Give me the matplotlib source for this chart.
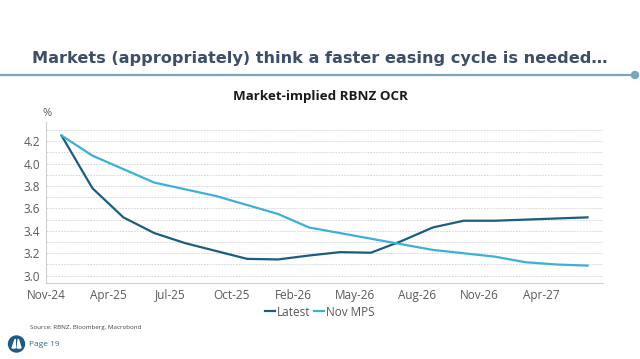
import matplotlib.pyplot as plt
import numpy as np
from matplotlib.patches import Ellipse, Polygon

# meeting-by-meeting path, Nov-24 .. May-27
latest = [4.25, 3.78, 3.52, 3.38, 3.29, 3.22, 3.15, 3.145, 3.18, 3.21,
          3.205, 3.31, 3.43, 3.49, 3.49, 3.50, 3.51, 3.52]
nov_mps = [4.25, 4.07, 3.95, 3.83, 3.77, 3.71, 3.63, 3.55, 3.43, 3.38,
           3.33, 3.28, 3.23, 3.20, 3.17, 3.12, 3.10, 3.09]
tick_labels = ["Nov-24", "Apr-25", "Jul-25", "Oct-25", "Feb-26",
               "May-26", "Aug-26", "Nov-26", "Apr-27"]
y_ticks = [3.0, 3.2, 3.4, 3.6, 3.8, 4.0, 4.2]

dark = "#1b5d7e"
light = "#3bb0d9"
grey = "#595959"

W, H = 640, 359
fig = plt.figure(figsize=(6.4, 3.59), dpi=100)
fig.patch.set_facecolor("white")

def px(x, y):
    return x / W, 1 - y / H

# slide title + rule
fig.text(*px(320, 58), "Markets (appropriately) think a faster easing cycle is needed\u2026",
         ha="center", va="center", fontsize=11.6, fontweight="bold",
         color="#3e4e69", family="DejaVu Sans")
fig.add_artist(plt.Line2D([0, 635 / W], [1 - 75 / H] * 2, color="#7aa6bd", lw=1.6))
fig.add_artist(Ellipse(px(635, 75), 7 / W, 7 / H, transform=fig.transFigure,
                       color="#7aa6bd"))

fig.text(*px(320, 97), "Market-implied RBNZ OCR", ha="center", va="center",
         fontsize=9.6, fontweight="bold", color="#1a1a1a", family="Open Sans")

ax = fig.add_axes([46 / W, 1 - 283 / H, (603 - 46) / W, (283 - 122) / H])
x = np.arange(len(latest))
ax.plot(x, latest, color=dark, lw=1.6, label="Latest")
ax.plot(x, nov_mps, color=light, lw=1.6, label="Nov MPS")

ax.set_xlim(-0.5, len(latest) - 0.5)
ax.set_ylim(2.935, 4.37)
ax.set_xticks(np.arange(len(tick_labels)) * 2 - 0.5)
ax.set_xticklabels(tick_labels)
ax.set_yticks(y_ticks)
ax.set_yticklabels(["%.1f" % v for v in y_ticks])
ax.set_yticks(np.arange(3.0, 4.35, 0.1), minor=True)
ax.grid(True, which="both", axis="y", color="#d0d0d0", ls=(0, (2, 1.5)), lw=0.6)
ax.set_axisbelow(True)
ax.tick_params(length=0, labelsize=8.5, labelcolor=grey, pad=4)
ax.tick_params(which="minor", length=0)
for s in ["top", "right"]:
    ax.spines[s].set_visible(False)
for s in ["left", "bottom"]:
    ax.spines[s].set_color("#d0d0d0")
for t in ax.get_xticklabels() + ax.get_yticklabels():
    t.set_family("Open Sans")

fig.text(*px(47, 113), "%", ha="center", va="center", fontsize=8,
         color=grey, family="Open Sans")

fig.legend(loc="center", bbox_to_anchor=px(320, 312), ncol=2, frameon=False,
           handlelength=0.8, handletextpad=0.2, columnspacing=0.3,
           labelcolor=grey, prop={"family": "Open Sans", "size": 8.5})

fig.text(*px(30, 327), "Source: RBNZ, Bloomberg, Macrobond", ha="left",
         va="center", fontsize=4.5, color="#444444", family="Open Sans")

# logo + page number
cx, cy = 16.5, 344
fig.add_artist(Ellipse(px(cx, cy), 16 / W, 16 / H, transform=fig.transFigure,
                       color="#1f5a84"))
fig.add_artist(Polygon([px(cx - 4.5, cy + 4), px(cx - 1.2, cy - 5), px(cx - 1.2, cy + 4)],
                       closed=True, transform=fig.transFigure, color="white"))
fig.add_artist(Polygon([px(cx + 0.6, cy + 4), px(cx + 1.8, cy - 5), px(cx + 4.5, cy + 4)],
                       closed=True, transform=fig.transFigure, color="white"))
fig.text(*px(29, 344), "Page 19", ha="left", va="center", fontsize=6,
         color="#2f6c97", family="Open Sans")

fig.savefig("out.png", dpi=100)
